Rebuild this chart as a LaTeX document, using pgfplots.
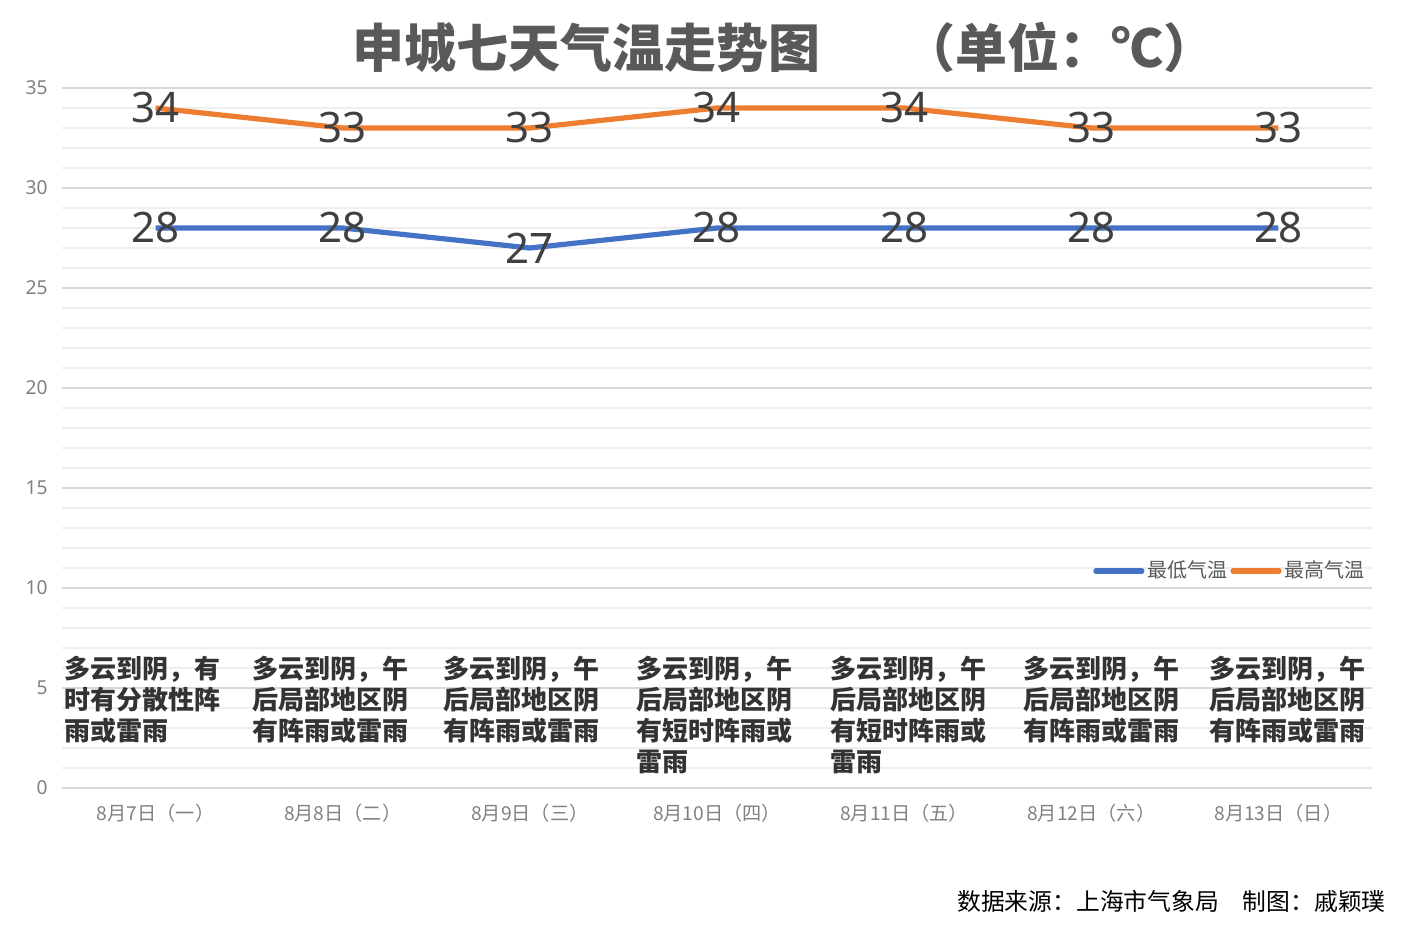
\documentclass[border=0pt]{standalone}
\usepackage{fontspec}
\usepackage{pgfplots}
\pgfplotsset{compat=1.18}
\setmainfont{Noto Sans}
\newfontfamily\cjk{Noto Sans CJK SC}
\definecolor{lowblue}{HTML}{4472C4}
\definecolor{highorange}{HTML}{ED7D31}
\definecolor{majgrid}{HTML}{D9D9D9}
\definecolor{mingrid}{HTML}{EFEFEF}
\definecolor{labgray}{HTML}{404040}
\definecolor{titlegray}{HTML}{595959}
\definecolor{tickgray}{HTML}{808080}

% one row per day: lowest and highest temperature
\pgfplotstableread{
day low high
0 28 34
1 28 33
2 27 33
3 28 34
4 28 34
5 28 33
6 28 33
}\temps

\begin{document}
\begin{tikzpicture}[x=0.5pt, y=0.5pt]
% the page in reference pixels: 1410 x 928
\path[use as bounding box] (0,0) rectangle (1410,928);
\begin{axis}[
  at={(31pt,70pt)}, anchor=south west,
  scale only axis, width=655pt, height=350pt,
  xmin=-0.5, xmax=6.5, ymin=0, ymax=35,
  xtick={0,...,6},
  xticklabels={{\cjk 8月7日（一）},{\cjk 8月8日（二）},{\cjk 8月9日（三）},
    {\cjk 8月10日（四）},{\cjk 8月11日（五）},{\cjk 8月12日（六）},{\cjk 8月13日（日）}},
  ytick={0,5,...,35}, minor y tick num=4,
  ymajorgrids, yminorgrids,
  major grid style={majgrid, line width=1pt},
  minor grid style={mingrid, line width=1pt},
  axis line style={draw=none}, tick style={draw=none},
  major tick length=0pt, minor tick length=0pt,
  /pgf/number format/assume math mode=true,
  ticklabel style={font=\fontsize{9.6pt}{11pt}\selectfont, text=tickgray, inner sep=0pt},
  xticklabel style={anchor=north, yshift=-8pt},
  yticklabel style={anchor=east, xshift=-7pt},
  clip=false,
  legend columns=2,
  legend style={draw=none, fill=none, inner sep=0pt,
    at={(0.997,0.31)}, anchor=east,
    font=\cjk\fontsize{10pt}{12pt}\selectfont, text=titlegray,
    nodes={inner sep=1.5pt}},
  legend image code/.code={\draw[#1, line cap=round] (0pt,0pt) -- (23pt,0pt);},
  nodes near coords,
  every node near coord/.append style={anchor=center, text=labgray,
    font=\fontsize{21pt}{24pt}\selectfont},
  ]
  \addplot[lowblue, line width=2.6pt] table[x=day, y=low] {\temps};
  \addlegendentry{最低气温}
  \addplot[highorange, line width=2.6pt] table[x=day, y=high] {\temps};
  \addlegendentry{最高气温}

  % weather notes sit inside the plot, one block per day
  \tikzset{desc/.style={anchor=north west, inner sep=0pt, align=left, text=black!80,
    font=\cjk\bfseries\fontsize{13pt}{15.5pt}\selectfont}}
  \node[desc] at (axis cs:-0.489,6.6) {多云到阴，有\\时有分散性阵\\雨或雷雨};
  \node[desc] at (axis cs:0.516,6.6) {多云到阴，午\\后局部地区阴\\有阵雨或雷雨};
  \node[desc] at (axis cs:1.537,6.6) {多云到阴，午\\后局部地区阴\\有阵雨或雷雨};
  \node[desc] at (axis cs:2.570,6.6) {多云到阴，午\\后局部地区阴\\有短时阵雨或\\雷雨};
  \node[desc] at (axis cs:3.602,6.6) {多云到阴，午\\后局部地区阴\\有短时阵雨或\\雷雨};
  \node[desc] at (axis cs:4.634,6.6) {多云到阴，午\\后局部地区阴\\有阵雨或雷雨};
  \node[desc] at (axis cs:5.628,6.6) {多云到阴，午\\后局部地区阴\\有阵雨或雷雨};
\end{axis}
\node[anchor=west, inner sep=0pt, text=titlegray,
  font=\cjk\bfseries\fontsize{26pt}{30pt}\selectfont] at (352,881)
  {申城七天气温走势图\hspace{1.6em}（单位：℃）};
\node[anchor=east, inner sep=0pt, text=black,
  font=\cjk\fontsize{11.9pt}{14pt}\selectfont] at (1386,27)
  {数据来源：上海市气象局\hspace{1em}制图：戚颖璞};
\end{tikzpicture}
\end{document}
